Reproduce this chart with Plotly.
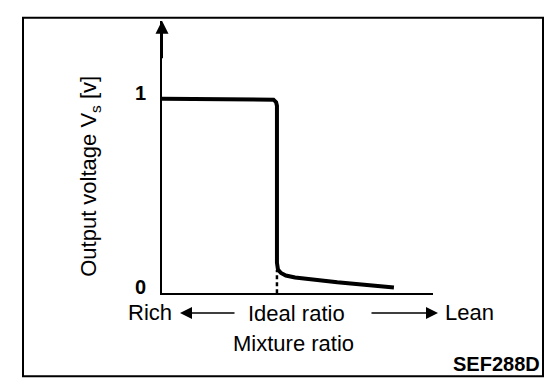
import plotly.graph_objects as go

# ---- data ----
mixture_x = [0.0, 3.76, 3.88, 3.97, 4.0, 4.0, 4.035, 4.14, 4.31, 4.63, 6.1, 8.07]
voltage_y = [1.0, 1.0, 0.995, 0.982, 0.964, 0.157, 0.122, 0.104, 0.091, 0.081, 0.056, 0.030]
ideal_x = 4.0
ideal_top = 0.12
y_tick_vals = [0, 1]
y_tick_text = ["<b>0</b>", "<b>1</b>"]
x_max = 9.43
y_max = 1.40

W, H = 560, 386
FONT = "Liberation Sans, Arial, sans-serif"

def px(x):
    return x / W

def py(y):
    return 1 - y / H

fig = go.Figure()

fig.add_trace(go.Scatter(
    x=mixture_x, y=voltage_y, mode="lines",
    line=dict(color="black", width=4), hoverinfo="skip", showlegend=False,
    cliponaxis=False,
))
fig.add_trace(go.Scatter(
    x=[ideal_x, ideal_x], y=[0, ideal_top], mode="lines",
    line=dict(color="black", width=2.5, dash="4px,3px"), hoverinfo="skip",
    showlegend=False,
))

fig.update_layout(
    width=W, height=H,
    margin=dict(l=0, r=0, t=0, b=0),
    paper_bgcolor="white", plot_bgcolor="white",
    font=dict(family=FONT, color="black", size=20),
    xaxis=dict(domain=[px(154), px(425)], range=[0, x_max], showgrid=False,
               zeroline=False, showline=True, linecolor="black", linewidth=2,
               showticklabels=False, ticks="", fixedrange=True),
    yaxis=dict(domain=[py(289), py(13)], range=[0, y_max], showgrid=False,
               zeroline=False, showline=True, linecolor="black", linewidth=2,
               tickvals=y_tick_vals, ticktext=y_tick_text, ticks="",
               tickfont=dict(size=20, family=FONT), ticklabelstandoff=10,
               ticklabelshift=-6, fixedrange=True),
    showlegend=False,
)

# frame
fig.add_shape(type="rect", xref="paper", yref="paper",
              x0=px(15), y0=py(373), x1=px(535), y1=py(10),
              line=dict(color="black", width=2))

# y axis arrowhead
fig.add_annotation(x=0, y=y_max, ax=0, ay=y_max - 0.2, xref="x", yref="y",
                   axref="x", ayref="y", text="", showarrow=True,
                   arrowhead=2, arrowsize=1.3, arrowwidth=2, arrowcolor="black")

# text
def label(text, x, y, size=22, bold=False, xanchor="center", angle=0):
    fig.add_annotation(x=px(x), y=py(y), xref="paper", yref="paper",
                       text=("<b>%s</b>" % text) if bold else text,
                       showarrow=False, xanchor=xanchor, yanchor="middle",
                       textangle=angle,
                       font=dict(size=size, family=FONT, color="black"))

label("Rich", 142, 309)
label("Ideal ratio", 288, 310)
label("Lean", 461, 309)
label("Mixture ratio", 285, 340)
label("SEF288D", 534, 361, size=20, bold=True, xanchor="right")
label("Output voltage V<sub>s</sub> [v]", 82, 171, angle=-90)

# Rich / Lean arrows (paper position, tail offset in pixels)
def arrow(head_x, tail_x, y):
    fig.add_annotation(x=px(head_x), y=py(y), xref="paper", yref="paper",
                       ax=tail_x - head_x, ay=0, text="", showarrow=True,
                       arrowhead=2, arrowsize=1.5, arrowwidth=1.6,
                       arrowcolor="black")

arrow(172, 228, 309)
arrow(430, 362, 309)

fig.write_html("out.html")
